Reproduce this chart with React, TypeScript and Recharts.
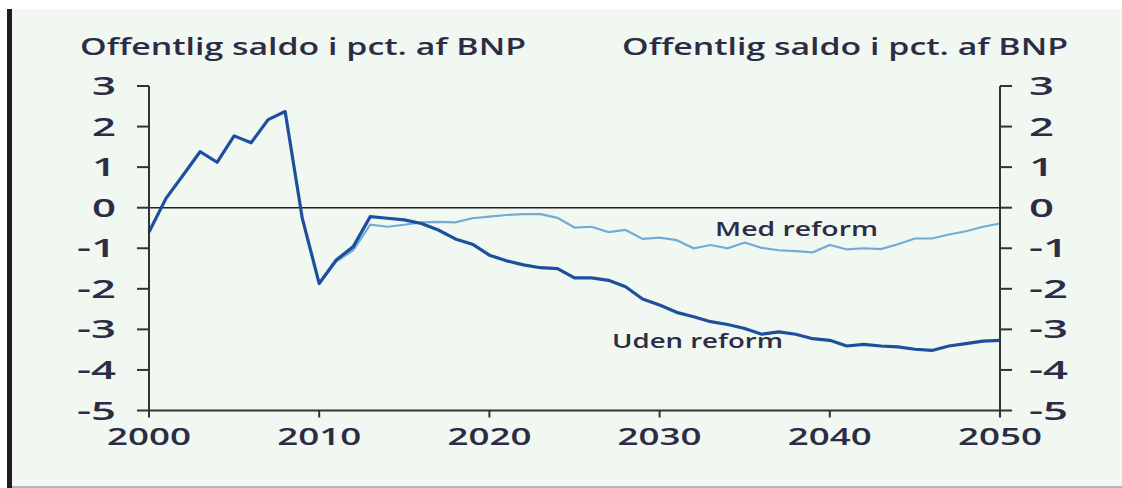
import React from 'react';
import { LineChart, Line, XAxis, YAxis, ReferenceLine } from 'recharts';

const years = [
  2000, 2001, 2002, 2003, 2004, 2005, 2006, 2007, 2008, 2009,
  2010, 2011, 2012, 2013, 2014, 2015, 2016, 2017, 2018, 2019,
  2020, 2021, 2022, 2023, 2024, 2025, 2026, 2027, 2028, 2029,
  2030, 2031, 2032, 2033, 2034, 2035, 2036, 2037, 2038, 2039,
  2040, 2041, 2042, 2043, 2044, 2045, 2046, 2047, 2048, 2049, 2050,
];

// Uden reform (dark line)
const udenReform = [
  -0.6, 0.23, 0.8, 1.38, 1.12, 1.77, 1.6, 2.17, 2.37, -0.25,
  -1.87, -1.29, -0.96, -0.22, -0.26, -0.3, -0.39, -0.55, -0.77, -0.9,
  -1.17, -1.31, -1.41, -1.48, -1.5, -1.73, -1.73, -1.79, -1.95, -2.25,
  -2.4, -2.58, -2.69, -2.81, -2.88, -2.98, -3.12, -3.06, -3.12, -3.23,
  -3.27, -3.41, -3.37, -3.41, -3.43, -3.49, -3.52, -3.41, -3.35, -3.29, -3.27,
];

// Med reform (light line), same as uden reform before 2010
const medReform = [
  null, null, null, null, null, null, null, null, null, null,
  -1.87, -1.33, -1.05, -0.42, -0.47, -0.42, -0.36, -0.35, -0.36, -0.26,
  -0.22, -0.18, -0.16, -0.16, -0.25, -0.49, -0.47, -0.6, -0.55, -0.77,
  -0.74, -0.8, -1.0, -0.92, -1.0, -0.86, -0.99, -1.05, -1.07, -1.1,
  -0.92, -1.03, -1.0, -1.02, -0.9, -0.76, -0.76, -0.66, -0.58, -0.47, -0.39,
];

const xTicks = [2000, 2010, 2020, 2030, 2040, 2050];
const yTicks = [-5, -4, -3, -2, -1, 0, 1, 2, 3];

const title = 'Offentlig saldo i pct. af BNP';

const data = years.map((year, i) => ({
  year,
  uden: udenReform[i],
  med: medReform[i],
}));

const TEXT = '#2c2d45';
const FONT = '"Open Sans", sans-serif';

function XTick(props: any) {
  const { x, y, payload } = props;
  return (
    <text x={x} y={y + 27.5} textAnchor="middle" fontFamily={FONT} fontWeight={600}
      fontSize={24} fill={TEXT} textLength={84} lengthAdjust="spacingAndGlyphs">
      {payload.value}
    </text>
  );
}

function LeftTick(props: any) {
  const { x, y, payload } = props;
  const s = String(payload.value);
  return (
    <text x={x - 21} y={y + 9} textAnchor="end" fontFamily={FONT} fontWeight={600}
      fontSize={25} fill={TEXT} textLength={s.length > 1 ? 39 : 24} lengthAdjust="spacingAndGlyphs">
      {s}
    </text>
  );
}

function RightTick(props: any) {
  const { x, y, payload } = props;
  const s = String(payload.value);
  return (
    <text x={x + 17} y={y + 9} textAnchor="start" fontFamily={FONT} fontWeight={600}
      fontSize={25} fill={TEXT} textLength={s.length > 1 ? 39 : 25} lengthAdjust="spacingAndGlyphs">
      {s}
    </text>
  );
}

export default function App() {
  return (
    <div style={{ position: 'absolute', left: 0, top: 0, width: 1122, height: 488, background: '#fff' }}>
      <div style={{ position: 'absolute', left: 12, top: 9, width: 1110, height: 478, background: '#f1f7f1' }} />
      <div style={{ position: 'absolute', left: 7, top: 9, width: 5, height: 479, background: '#1e1e1e' }} />
      <div style={{ position: 'absolute', left: 12, top: 486, width: 1110, height: 2, background: '#b4b8b4' }} />
      <div style={{ position: 'absolute', left: 0, top: 0 }}>
        <LineChart width={1122} height={488} data={data}
          margin={{ top: 86, right: 0, bottom: 0, left: 0 }}>
          <XAxis dataKey="year" type="number" domain={[2000, 2050]} ticks={xTicks}
            height={77.5} tickSize={7} tickMargin={0} tick={<XTick />}
            axisLine={{ stroke: '#333', strokeWidth: 2 }} tickLine={{ stroke: '#333', strokeWidth: 2 }} />
          <YAxis yAxisId="left" orientation="left" domain={[-5, 3]} ticks={yTicks} width={149}
            tickSize={12} tickMargin={0} tick={<LeftTick />} allowDataOverflow
            axisLine={{ stroke: '#333', strokeWidth: 2 }} tickLine={{ stroke: '#333', strokeWidth: 2 }} />
          <YAxis yAxisId="right" orientation="right" domain={[-5, 3]} ticks={yTicks} width={122}
            tickSize={12} tickMargin={0} tick={<RightTick />} allowDataOverflow
            axisLine={{ stroke: '#333', strokeWidth: 2 }} tickLine={{ stroke: '#333', strokeWidth: 2 }} />
          <ReferenceLine yAxisId="left" y={0} stroke="#222" strokeWidth={1.6} />
          <Line yAxisId="left" type="linear" dataKey="med" stroke="#72acd6" strokeWidth={2.2}
            dot={false} connectNulls={false} isAnimationActive={false} />
          <Line yAxisId="left" type="linear" dataKey="uden" stroke="#1d4f9d" strokeWidth={3.2}
            dot={false} strokeLinejoin="round" isAnimationActive={false} />
        </LineChart>
      </div>
      <svg width={1122} height={488} style={{ position: 'absolute', left: 0, top: 0, pointerEvents: 'none' }}>
        <text x={80} y={55} fontFamily={FONT} fontWeight={600} fontSize={24} fill={TEXT}
          textLength={446} lengthAdjust="spacingAndGlyphs">{title}</text>
        <text x={622} y={55} fontFamily={FONT} fontWeight={600} fontSize={24} fill={TEXT}
          textLength={446} lengthAdjust="spacingAndGlyphs">{title}</text>
        <text x={715} y={236} fontFamily={FONT} fontWeight={600} fontSize={20} fill={TEXT}
          textLength={163} lengthAdjust="spacingAndGlyphs">Med reform</text>
        <text x={612} y={348} fontFamily={FONT} fontWeight={600} fontSize={20} fill={TEXT}
          textLength={171} lengthAdjust="spacingAndGlyphs">Uden reform</text>
      </svg>
    </div>
  );
}
